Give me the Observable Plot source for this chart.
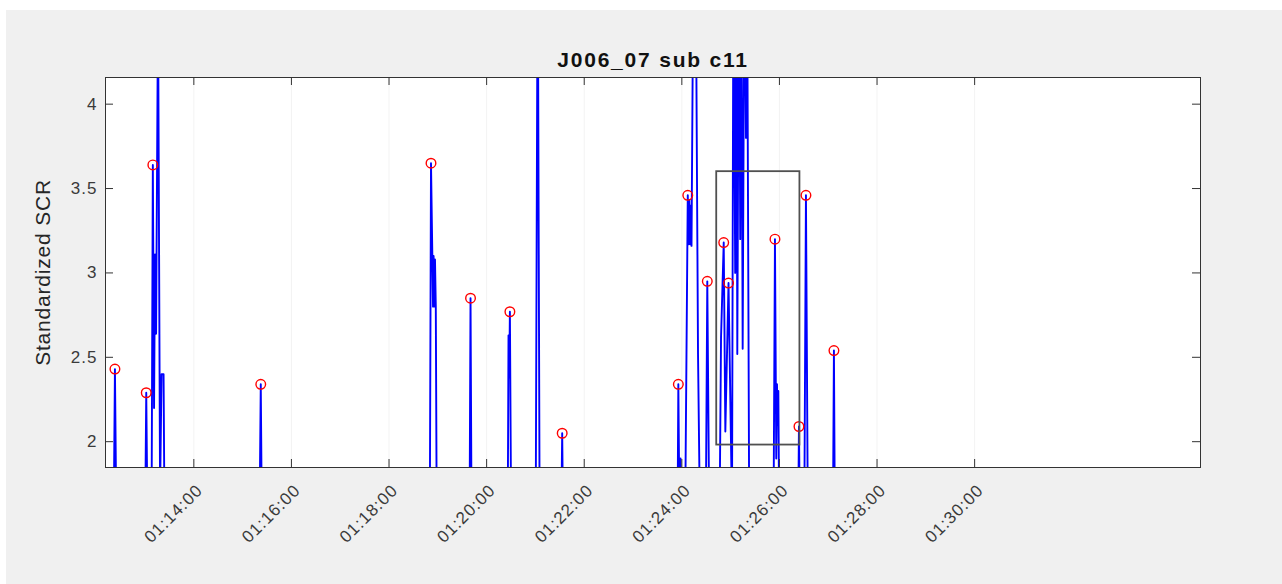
<!DOCTYPE html>
<html>
<head>
<meta charset="utf-8">
<script src="https://cdn.jsdelivr.net/npm/d3@7"></script>
<script src="https://cdn.jsdelivr.net/npm/@observablehq/plot@0.6"></script>
<style>
  html, body { margin: 0; padding: 0; background: #ffffff; }
  #fig { position: absolute; left: 6px; top: 10px; width: 1276px; height: 574px; background: #f0f0f0; }
  #chart { position: absolute; left: 0; top: 0; }
</style>
</head>
<body>
<div id="fig"></div>
<div id="chart"></div>
<script>
// ---- Data ----------------------------------------------------------------
const titleText = "J006_07 sub c11";
const yLabelText = "Standardized SCR";

// Standardized skin-conductance response over time (values below the view are clipped)
const scrTime = [
  "01:12:12.0", "01:12:21.4", "01:12:23.0", "01:12:24.8",
  "01:13:00.1", "01:13:01.5", "01:13:03.1",
  "01:13:08.0", "01:13:09.6", "01:13:11.1", "01:13:12.3", "01:13:13.6", "01:13:16.0",
  "01:13:18.5", "01:13:20.3", "01:13:22.8", "01:13:24.0",
  "01:15:20.7", "01:15:22.3", "01:15:23.7",
  "01:18:50.1", "01:18:51.6", "01:18:53.2", "01:18:54.1", "01:18:54.8", "01:18:55.7",
  "01:18:56.5", "01:18:57.5", "01:18:58.7",
  "01:19:39.0", "01:19:40.2", "01:19:41.5",
  "01:20:25.9", "01:20:26.9", "01:20:27.8", "01:20:28.6", "01:20:30.2",
  "01:21:00.3", "01:21:02.8", "01:21:05.2",
  "01:21:31.6", "01:21:32.9", "01:21:34.1",
  "01:23:54.7", "01:23:55.7", "01:23:57.2", "01:23:58.4", "01:23:59.7",
  "01:24:04.0", "01:24:07.3", "01:24:08.3", "01:24:09.2", "01:24:10.1", "01:24:11.1",
  "01:24:11.9", "01:24:14.4", "01:24:15.6", "01:24:16.9", "01:24:19.9", "01:24:22.4",
  "01:24:29.4", "01:24:31.3", "01:24:33.8",
  "01:24:46.3", "01:24:48.2", "01:24:51.5", "01:24:53.5", "01:24:57.4", "01:25:01.7",
  "01:25:03.5", "01:25:05.6", "01:25:07.0", "01:25:08.2", "01:25:10.3", "01:25:11.8",
  "01:25:13.1", "01:25:14.8", "01:25:17.0", "01:25:18.9", "01:25:20.1", "01:25:22.9",
  "01:25:52.7", "01:25:54.5", "01:25:56.1", "01:25:57.0", "01:25:57.8", "01:25:58.6", "01:25:59.8",
  "01:26:23.0", "01:26:24.0", "01:26:25.2",
  "01:26:30.5", "01:26:32.6", "01:26:35.0",
  "01:27:05.7", "01:27:07.0", "01:27:08.2",
  "01:27:30.0"
];
const scrValue = [
  1.50, 1.50, 2.43, 1.50,
  1.50, 2.29, 1.50,
  1.50, 3.64, 2.20, 3.11, 2.64, 4.60,
  1.70, 2.40, 2.40, 1.50,
  1.50, 2.34, 1.50,
  1.50, 3.65, 3.12, 2.80, 3.10, 2.80,
  3.08, 2.80, 1.50,
  1.50, 2.85, 1.50,
  1.50, 2.63, 2.38, 2.77, 1.50,
  1.50, 5.00, 1.50,
  1.50, 2.05, 1.50,
  1.50, 2.34, 1.50, 1.90, 1.50,
  1.50, 3.46, 3.17, 3.43, 3.17, 3.40,
  3.16, 5.00, 4.30, 5.00, 2.52, 1.50,
  1.50, 2.95, 1.50,
  1.50, 2.62, 3.18, 2.06, 2.94, 1.60,
  5.00, 3.00, 5.00, 2.52, 5.00, 3.20,
  5.00, 2.55, 5.00, 3.80, 5.00, 1.50,
  1.50, 3.20, 1.90, 2.34, 2.10, 2.30, 1.50,
  1.50, 2.09, 1.50,
  1.50, 3.46, 1.50,
  1.50, 2.54, 1.50,
  1.50
];

// Detected SCR peaks
const peakTime = [
  "01:12:23.0", "01:13:01.5", "01:13:09.6", "01:15:22.3", "01:18:51.6", "01:19:40.2",
  "01:20:28.6", "01:21:32.9", "01:23:55.7", "01:24:07.3", "01:24:31.3", "01:24:51.5",
  "01:24:57.4", "01:25:54.5", "01:26:24.0", "01:26:32.6", "01:27:07.0"
];
const peakValue = [
  2.43, 2.29, 3.64, 2.34, 3.65, 2.85,
  2.77, 2.05, 2.34, 3.46, 2.95, 3.18,
  2.94, 3.20, 2.09, 3.46, 2.54
];

// Highlighted window
const boxStart = "01:24:42.9";
const boxEnd = "01:26:25.2";
const boxLow = 1.98;
const boxHigh = 3.60;

// Axes
const xStart = "01:12:11.4";
const xEnd = "01:34:37.7";
const xTickLabels = ["01:14:00", "01:16:00", "01:18:00", "01:20:00", "01:22:00",
                     "01:24:00", "01:26:00", "01:28:00", "01:30:00"];
const yMin = 1.847;
const yMax = 4.158;
const yTicks = [2, 2.5, 3, 3.5, 4];

// ---- Helpers -------------------------------------------------------------
function toDate(s) {
  const [h, m, sec] = s.split(":");
  return new Date(2000, 0, 1, +h, +m, 0, Math.round(+sec * 1000));
}

const series = scrTime.map((t, i) => ({t: toDate(t), v: scrValue[i]}));
const peaks = peakTime.map((t, i) => ({t: toDate(t), v: peakValue[i]}));
const box = [{x1: toDate(boxStart), x2: toDate(boxEnd), y1: boxLow, y2: boxHigh}];
const xTicks = xTickLabels.map((s, i) => ({t: toDate(s), label: s}));

// ---- Layout --------------------------------------------------------------
const W = 1282, H = 584;
const mL = 105, mR = 82, mT = 77, mB = 117;
const frameW = W - mL - mR;
const frameH = H - mT - mB;
const tickLen = 8;
const axisColor = "#333333";
const font = "'Liberation Sans', Arial, Helvetica, sans-serif";

const chart = Plot.plot({
  width: W,
  height: H,
  marginLeft: mL,
  marginRight: mR,
  marginTop: mT,
  marginBottom: mB,
  style: {background: "transparent", fontFamily: font, color: axisColor},
  x: {type: "time", domain: [toDate(xStart), toDate(xEnd)], axis: null},
  y: {domain: [yMin, yMax]},
  marks: [
    Plot.frame({fill: "white", stroke: null}),
    Plot.ruleX(xTicks, {x: "t", stroke: "#f3f3f3", strokeWidth: 1}),
    Plot.line(series, {x: "t", y: "v", stroke: "#0000ff", strokeWidth: 1.9, clip: true}),
    Plot.dot(peaks, {x: "t", y: "v", r: 4.8, stroke: "#ff0000", strokeWidth: 1.4, fill: "none", clip: true}),
    Plot.rect(box, {x1: "x1", x2: "x2", y1: "y1", y2: "y2", fill: "none", stroke: "#505050", strokeWidth: 1.8}),
    Plot.frame({stroke: axisColor, strokeWidth: 1}),
    // inward ticks on all four sides
    Plot.ruleX(xTicks, {x: "t", stroke: axisColor, insetTop: frameH - tickLen}),
    Plot.ruleX(xTicks, {x: "t", stroke: axisColor, insetBottom: frameH - tickLen}),
    Plot.ruleY(yTicks, {stroke: axisColor, insetRight: frameW - tickLen}),
    Plot.ruleY(yTicks, {stroke: axisColor, insetLeft: frameW - tickLen}),
    Plot.axisY({ticks: yTicks, tickSize: 0, tickPadding: 8, tickFormat: d => String(d),
                label: null, fontSize: 17, fill: "#3a3a3a"}),
    Plot.text(xTicks, {x: "t", text: "label", frameAnchor: "bottom", rotate: -45,
                       textAnchor: "end", lineAnchor: "middle", dx: 6, dy: 20,
                       fontSize: 17, fill: "#3a3a3a", fontFamily: font}),
    Plot.text([yLabelText], {text: d => d, frameAnchor: "left", rotate: -90, dx: -62,
                             textAnchor: "middle", lineAnchor: "middle",
                             fontSize: 21, fill: "#262626", fontFamily: font}),
    Plot.text([titleText], {text: d => d, frameAnchor: "top", dy: -11, lineAnchor: "bottom",
                            fontSize: 21, fontWeight: "bold", fill: "#111111", fontFamily: font})
  ]
});

// letter spacing per text group: x tick labels, y label, title
const textGroups = d3.select(chart).selectAll('g[aria-label="text"]').nodes();
const spacing = [1.0, 0.8, 1.8];
textGroups.forEach((g, i) => d3.select(g).selectAll("text").style("letter-spacing", spacing[i] + "px"));
d3.select(chart).selectAll('g[aria-label="y-axis tick label"] text').style("letter-spacing", "1px");

document.getElementById("chart").appendChild(chart);
</script>
</body>
</html>
